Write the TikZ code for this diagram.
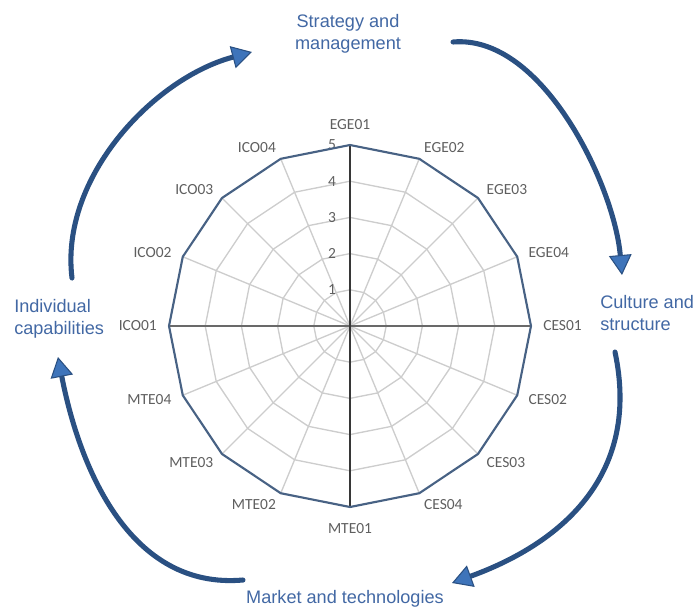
\documentclass[tikz,border=0pt]{standalone}
\usepackage{fontspec}
\setmainfont{Liberation Sans}
\newfontfamily\axisfont{Carlito}
\usetikzlibrary{arrows.meta}
\definecolor{gridgray}{RGB}{205,205,205}
\definecolor{axisdark}{RGB}{55,55,55}
\definecolor{polyblue}{RGB}{72,98,132}
\definecolor{labgray}{RGB}{95,95,95}
\definecolor{catblue}{RGB}{66,104,164}
\definecolor{arrline}{RGB}{42,80,130}
\definecolor{arrfill}{RGB}{62,116,186}
\begin{document}
\begin{tikzpicture}[x=0.75pt,y=0.75pt,line join=round,line cap=round,
	grid/.style={gridgray,line width=1pt},
	axislab/.style={font=\axisfont\fontsize{11.6}{13}\selectfont,text=labgray,inner sep=0pt},
	cat/.style={font=\fontsize{13.6}{16.5}\selectfont,text=catblue,inner sep=0pt},
	cycle arrow/.style={arrline,line width=3.8pt,-{Triangle[length=15pt,width=17pt,line width=0.8pt,fill=arrfill]}}]
	\useasboundingbox (-350,-282) rectangle (345,326);
	\def\R{181}
	% rings for the levels 1 to 4
	\foreach \k in {1,...,4}
		\draw[grid] (0:\k*\R/5) \foreach \a in {1,...,15}{ -- (\a*22.5:\k*\R/5)} -- cycle;
	\foreach \a in {0,22.5,...,337.5} \draw[grid] (0,0) -- (\a:\R);
	\draw[axisdark!75,line width=1.2pt] (180:\R) -- (0:\R);
	\draw[axisdark,line width=1.3pt] (-90:\R) -- (90:\R);
	% scale
	\foreach \k in {1,...,5} \node[axislab] (tick\k) at (-18,\k*\R/5) {\k};
	% all items at 5
	\draw[polyblue,line width=1.6pt] (0:\R) \foreach \a in {1,...,15}{ -- (\a*22.5:\R)} -- cycle;
	\foreach \a/\n/\p/\d in {90/EGE01/south/15,67.5/EGE02/west/12,45/EGE03/west/12,22.5/EGE04/west/12,
		0/CES01/west/12,-22.5/CES02/west/12,-45/CES03/west/12,-67.5/CES04/west/12,
		-90/MTE01/north/16,-112.5/MTE02/east/12,-135/MTE03/east/12,-157.5/MTE04/east/12,
		180/ICO01/east/12,157.5/ICO02/east/12,135/ICO03/east/12,112.5/ICO04/east/12}
		\node[axislab,anchor=\p] (\n) at (\a:\R+\d) {\n};
	% the four groups
	\node[cat,align=center] (strategy) at (-2,292) {Strategy and\\management};
	\node[cat,align=left,anchor=west] (culture) at (250,12.5) {Culture and\\structure};
	\node[cat,align=left,anchor=west] (individual) at (-336,7) {Individual\\capabilities};
	\node[cat] (market) at (-5,-273) {Market and technologies};
	% cycle arrows
	\coordinate (s1) at (-278,48);  \coordinate (e1) at (-98,274);
	\coordinate (s2) at (103,284);  \coordinate (e2) at (272,51);
	\coordinate (s3) at (265,-26);  \coordinate (e3) at (102,-257);
	\coordinate (s4) at (-107,-254); \coordinate (e4) at (-292,-31);
	\draw[cycle arrow] (s1) to[out=97,in=195,looseness=0.9] (e1);
	\draw[cycle arrow] (s2) to[out=5,in=95,looseness=0.8] (e2);
	\draw[cycle arrow] (s3) to[out=-78,in=20,looseness=1.1] (e3);
	\draw[cycle arrow] (s4) to[out=185,in=281] (e4);
\end{tikzpicture}
\end{document}
